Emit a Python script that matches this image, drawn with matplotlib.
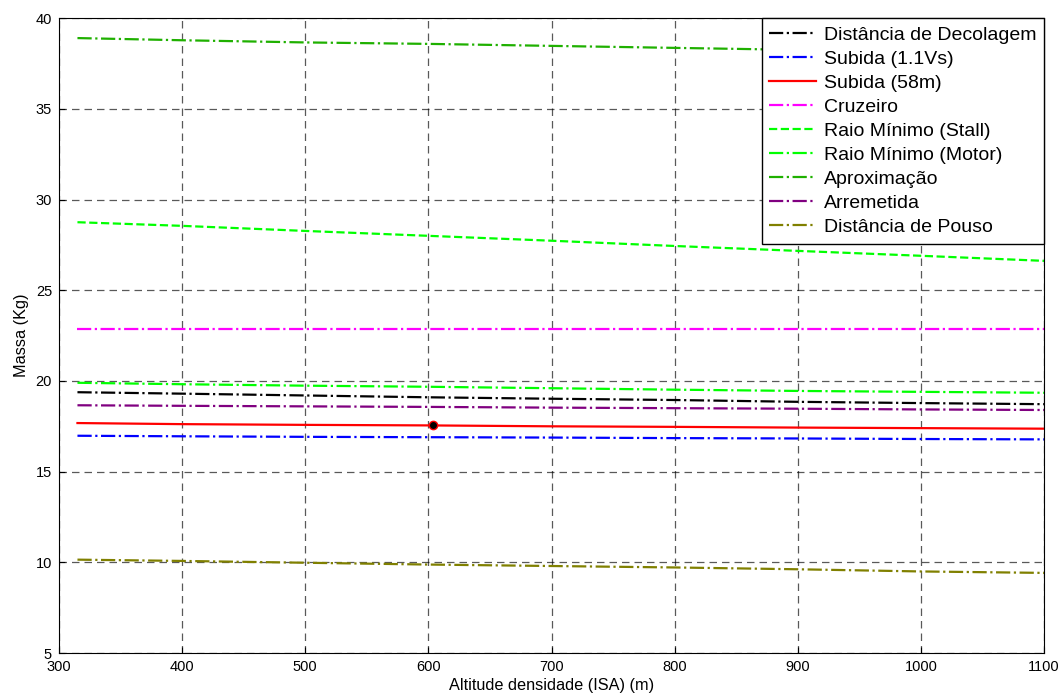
import matplotlib
matplotlib.use("Agg")
import matplotlib.pyplot as plt

plt.rcParams["font.family"] = ["Liberation Sans", "DejaVu Sans"]

# altitude densidade (m)
altitude = [315, 400, 500, 600, 700, 800, 900, 1000, 1100]

decolagem = [19.38, 19.30, 19.20, 19.10, 19.02, 18.95, 18.85, 18.78, 18.72]
subida_vs = [16.98, 16.95, 16.92, 16.90, 16.88, 16.85, 16.83, 16.80, 16.78]
subida_58 = [17.68, 17.62, 17.58, 17.55, 17.50, 17.47, 17.43, 17.40, 17.37]
cruzeiro = [22.85, 22.85, 22.85, 22.85, 22.85, 22.85, 22.85, 22.85, 22.85]
raio_stall = [28.75, 28.55, 28.27, 28.00, 27.73, 27.44, 27.17, 26.90, 26.62]
raio_motor = [19.90, 19.82, 19.74, 19.68, 19.60, 19.52, 19.45, 19.40, 19.35]
aproximacao = [38.90, 38.78, 38.66, 38.58, 38.47, 38.36, 38.25, 38.13, 38.02]
arremetida = [18.66, 18.63, 18.60, 18.57, 18.53, 18.50, 18.47, 18.43, 18.40]
pouso = [10.15, 10.08, 9.98, 9.88, 9.80, 9.72, 9.62, 9.50, 9.42]

ponto_x = [604]
ponto_y = [17.55]

series = [
    ("Distância de Decolagem", decolagem, "black", "-."),
    ("Subida (1.1Vs)", subida_vs, "blue", "-."),
    ("Subida (58m)", subida_58, "red", "-"),
    ("Cruzeiro", cruzeiro, "magenta", "-."),
    ("Raio Mínimo (Stall)", raio_stall, "#00ff00", "--"),
    ("Raio Mínimo (Motor)", raio_motor, "#00ff00", "-."),
    ("Aproximação", aproximacao, "#1fb000", "-."),
    ("Arremetida", arremetida, "purple", "-."),
    ("Distância de Pouso", pouso, "#808000", "-."),
]

fig = plt.figure(figsize=(10.61, 6.97), dpi=100)
ax = fig.add_axes([0.0556, 0.063, 0.9284, 0.911])

for label, values, color, style in series:
    ax.plot(altitude, values, linestyle=style, color=color, linewidth=1.6, label=label)

ax.plot(ponto_x, ponto_y, "o", color="black", markeredgecolor="red", markersize=6)

ax.set_xlim(300, 1100)
ax.set_ylim(5, 40)
ax.set_xticks(range(300, 1101, 100))
ax.set_yticks(range(5, 41, 5))
ax.tick_params(direction="in", labelsize=10.5, length=4)
ax.tick_params(axis="x", pad=5)
ax.tick_params(axis="y", pad=5)
ax.grid(True, linestyle=(0, (6, 4)), color="black", alpha=0.65, linewidth=0.9)
ax.set_xlabel("Altitude densidade (ISA) (m)", fontsize=11.7, labelpad=3)
ax.set_ylabel("Massa (Kg)", fontsize=11.7, labelpad=5)

leg = ax.legend(loc="upper right", fontsize=14, borderaxespad=0, fancybox=False,
                framealpha=1, edgecolor="black", handlelength=2.4,
                handletextpad=0.4, labelspacing=0.33, borderpad=0.4)
leg.get_frame().set_linewidth(1.0)

fig.savefig("out.png", dpi=100)
